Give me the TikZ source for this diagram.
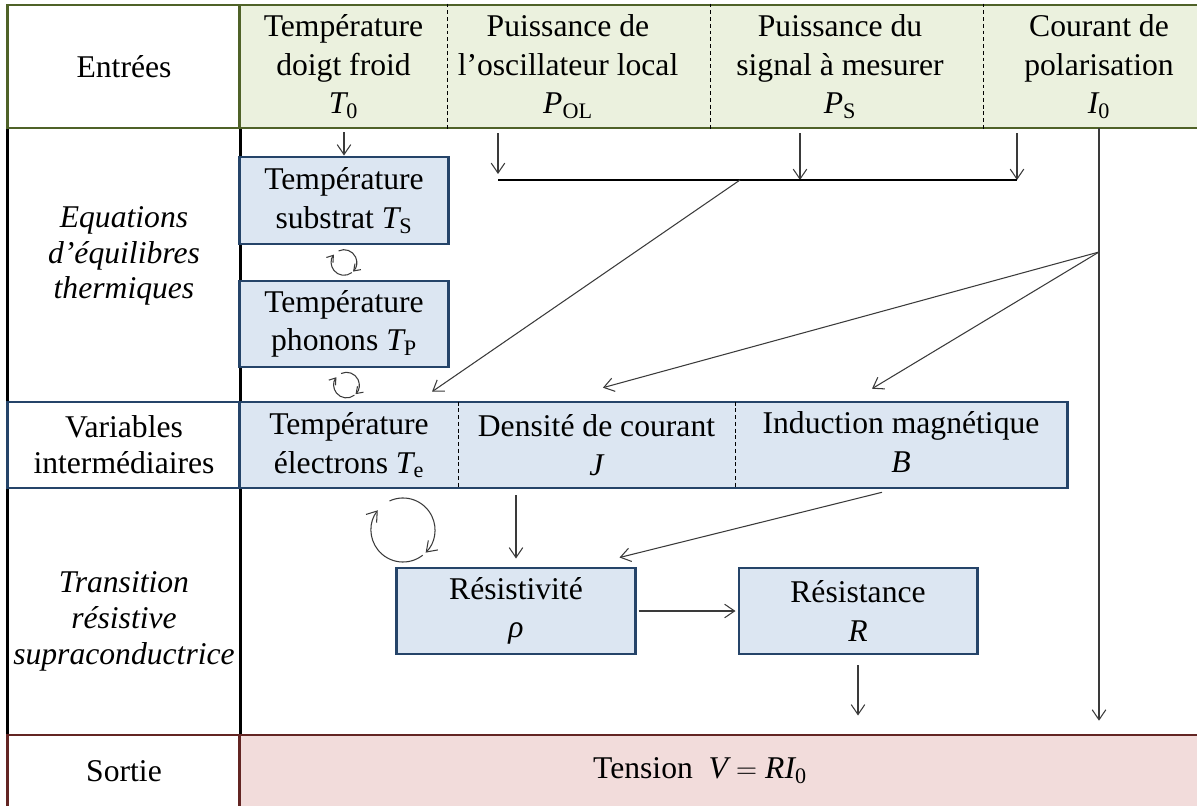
\documentclass[tikz,border=0pt]{standalone}
\usepackage{amsmath}
\usepackage{fontspec}
\setmainfont{Liberation Serif}
\usepackage{tikz}
\usetikzlibrary{arrows.meta,calc}
\definecolor{olivedark}{HTML}{4F6228}
\definecolor{olivesoft}{HTML}{EBF1DE}
\definecolor{bluedark}{HTML}{254469}
\definecolor{bluesoft}{HTML}{DCE6F2}
\definecolor{reddark}{HTML}{632523}
\definecolor{redsoft}{HTML}{F2DCDB}
\definecolor{linegray}{HTML}{3A3A3A}
\tikzset{
  txt/.style={align=center, inner sep=0pt, font=\fontsize{22.5}{27.5}\selectfont},
  itxt/.style={align=center, inner sep=0pt, font=\fontsize{22.5}{25.5}\selectfont\itshape},
  cell/.style={txt, draw, line width=2.1pt, minimum width=5.8cm},
  rowbox/.style={draw, line width=2.1pt, inner sep=0pt},
  box/.style={txt, draw=bluedark, fill=bluesoft, line width=2.1pt, minimum width=5.95cm, minimum height=2.15cm},
  flow/.style={-{Straight Barb[length=2.5mm,width=3.4mm]}, draw=linegray, line width=0.75pt},
  bus/.style={draw=black, line width=0.8pt},
  sep/.style={dashed, dash pattern=on 2.8pt off 2pt, draw=black, line width=0.6pt},
  pics/cycle/.style n args={2}{code={
    \draw[-{Straight Barb[length=#2,width=1.4*#2]}, draw=linegray, line width=0.75pt] (115:#1) arc[start angle=115, end angle=-45, radius=#1];
    \draw[-{Straight Barb[length=#2,width=1.4*#2]}, draw=linegray, line width=0.75pt] (-52:#1) arc[start angle=-52, end angle=-218, radius=#1];
  }}
}

\begin{document}
\begin{tikzpicture}[x=0.025cm, y=-0.025cm]
  \useasboundingbox (0,0) rectangle (1197,806);

  % rows of the table
  \node[cell, draw=black, minimum height=6.85cm] (leq) at (124,265) {};
  \node[cell, draw=black, minimum height=6.175cm] (ltr) at (124,611.5) {};
  \node[cell, draw=olivedark, fill=white, minimum height=3.075cm] (lin) at (124,66.5) {Entrées};
  \node[rowbox, draw=olivedark, fill=olivesoft, minimum width=24cm, minimum height=3.075cm] (inrow) at (720,66.5) {};
  \node[cell, draw=bluedark, fill=white, minimum height=2.15cm, font=\fontsize{22.5}{25.5}\selectfont] (lvar) at (124,445) {Variables\\intermédiaires};
  \node[rowbox, draw=bluedark, fill=bluesoft, minimum width=20.675cm, minimum height=2.15cm] (varrow) at (653.5,445) {};
  \node[cell, draw=reddark, fill=white, minimum height=1.825cm] (lout) at (124,771.5) {Sortie};
  \node[rowbox, draw=reddark, fill=redsoft, minimum width=24cm, minimum height=1.825cm] (outrow) at (720,771.5) {};

  \node[itxt] (eqtxt) at ($(leq)+(0,-9)$) {Equations\\d’équilibres\\thermiques};
  \node[itxt] (trtxt) at ($(ltr)+(0,10)$) {Transition\\résistive\\supraconductrice};

  % inputs
  \node[txt, minimum height=3.075cm] (t0) at (343.5,66.5) {Température\\doigt froid\\$\textit{T}_{\textrm{0}}$};
  \node[txt, minimum height=3.075cm] (pol) at (568,66.5) {Puissance de\\l’oscillateur local\\$\textit{P}_{\textrm{OL}}$};
  \node[txt, minimum height=3.075cm] (ps) at (840,66.5) {Puissance du\\signal à mesurer\\$\textit{P}_{\textrm{S}}$};
  \node[txt, minimum height=3.075cm] (i0) at (1099,66.5) {Courant de\\polarisation\\$\textit{I}_{\textrm{0}}$};
  \draw[sep] (447,0 |- inrow.north) -- (447,0 |- inrow.south);
  \draw[sep] (710,0 |- inrow.north) -- (710,0 |- inrow.south);
  \draw[sep] (983,0 |- inrow.north) -- (983,0 |- inrow.south);

  % intermediate variables
  \node[txt, minimum width=5.45cm, minimum height=2.15cm] (te) at (349,445) {Température\\électrons $\textit{T}_{\textrm{e}}$};
  \node[txt, minimum width=6.925cm, minimum height=2.15cm] (jd) at (596.5,445) {Densité de courant\\$\textit{J}$};
  \node[txt, minimum width=8.3cm, minimum height=2.15cm] (bi) at (901,442) {Induction magnétique\\$\textit{B}$};
  \draw[sep] (te.north east) -- (te.south east);
  \draw[sep] (jd.north east) -- (jd.south east);

  % blocks
  \node[box, minimum width=5.2cm, minimum height=2.175cm] (subs) at (344,200.5) {Température\\substrat $\textit{T}_{\textrm{S}}$};
  \node[box, minimum width=5.2cm] (phon) at (344,324) {Température\\phonons $\textit{T}_{\textrm{P}}$};
  \node[box] (rho) at (516,611) {Résistivité\\\textit{ρ}};
  \node[box] (res) at (858,611) {Résistance\\$\textit{R}$};
  \node[txt] (tension) at ($(outrow)+(-20,-1)$) {Tension\ \ $\textit{V}=\textit{RI}_{\textrm{0}}$};

  \coordinate (busw) at (498,180);
  \coordinate (busps) at (800,180);
  \coordinate (busm) at (740,180);
  \coordinate (buse) at (1017,180);
  \coordinate (split) at (i0.south |- 0,252);

  % connectors
  \draw[flow, shorten <=1mm] (subs.north |- t0.south) -- (subs.north);
  \draw[flow, shorten <=1.2mm] (busw |- pol.south) -- ([yshift=1.5mm]busw);
  \draw[flow, shorten <=1.2mm] (busps |- ps.south) -- (busps);
  \draw[flow, shorten <=1.2mm] (buse |- i0.south) -- (buse);
  \draw[bus] (busw) -- (buse);
  \draw[flow] (busm) -- ([xshift=20.75mm,yshift=2.5mm]te.north);
  \draw[flow, shorten >=3.2mm] (i0.south) -- (i0.south |- outrow.north);
  \draw[flow] (split) -- ([xshift=1.6mm,yshift=3.5mm]jd.north);
  \draw[flow] (split) -- ([xshift=-7.25mm,yshift=2.5mm]bi.north);
  \draw[flow, shorten <=1.8mm, shorten >=2mm] (rho.north |- jd.south) -- (rho.north);
  \draw[flow] ([xshift=-4.75mm,yshift=-1.75mm]bi.south) -- ([xshift=-4.25mm,yshift=2.25mm]rho.north east);
  \draw[flow, shorten <=0.5mm, shorten >=0.5mm] (rho.east) -- (res.west);
  \draw[flow, shorten <=2.5mm, shorten >=4.5mm] (res.south) -- (res.south |- outrow.north);

  \pic at ($(subs.south)!0.5!(phon.north)$) {cycle={0.32cm}{1.5mm}};
  \pic at ($(phon.south)!0.5!(te.north)$) {cycle={0.32cm}{1.5mm}};
  \pic at (403,530) {cycle={0.8cm}{2.4mm}};
\end{tikzpicture}
\end{document}
